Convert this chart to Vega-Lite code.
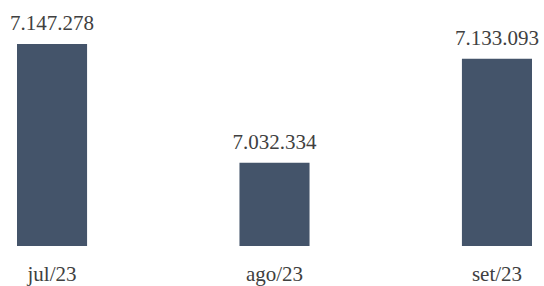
{
  "$schema": "https://vega.github.io/schema/vega-lite/v6.json",
  "width": 544,
  "height": 246,
  "autosize": {"type": "none"},
  "padding": {"top": 0, "left": 0, "right": 0, "bottom": 40},
  "background": "white",
  "config": {
    "view": {"stroke": null},
    "locale": {"number": {"decimal": ",", "thousands": ".", "grouping": [3], "currency": ["R$", ""]}}
  },
  "data": {
    "values": [
      {"mes": "jul/23", "valor": 7147278},
      {"mes": "ago/23", "valor": 7032334},
      {"mes": "set/23", "valor": 7133093}
    ]
  },
  "encoding": {
    "x": {
      "field": "mes",
      "type": "nominal",
      "sort": null,
      "scale": {"range": [17, 532], "paddingInner": 0.685, "paddingOuter": 0},
      "axis": {
        "title": null,
        "domain": false,
        "ticks": false,
        "tickSize": 0,
        "grid": false,
        "labelAngle": 0,
        "labelFont": "Liberation Serif",
        "labelFontSize": 21,
        "labelColor": "#404040",
        "labelPadding": 17
      }
    },
    "y": {
      "field": "valor",
      "type": "quantitative",
      "scale": {"domain": [6951662, 7189880], "zero": false, "nice": false},
      "axis": null
    }
  },
  "layer": [
    {
      "mark": {"type": "bar", "color": "#44546A"},
      "encoding": {"y2": {"datum": 6951662}}
    },
    {
      "mark": {
        "type": "text",
        "font": "Liberation Serif",
        "fontSize": 21,
        "color": "#404040",
        "baseline": "alphabetic",
        "dy": -14
      },
      "encoding": {"text": {"field": "valor", "type": "quantitative", "format": ",d"}}
    }
  ]
}
